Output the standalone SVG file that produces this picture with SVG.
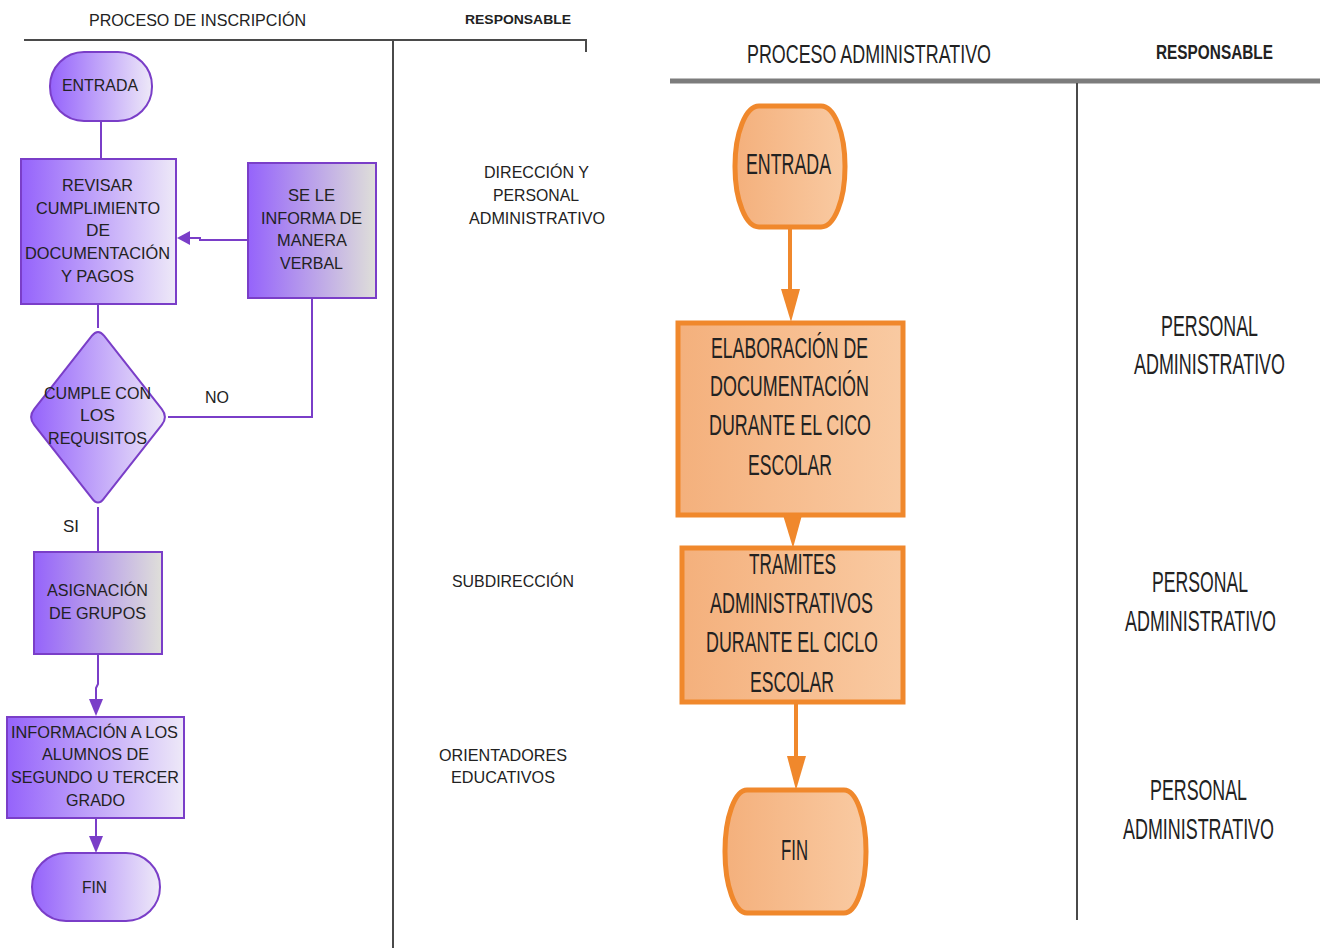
<svg xmlns="http://www.w3.org/2000/svg" width="1320" height="948" viewBox="0 0 1320 948">
  <defs>
    <linearGradient id="gLav" x1="0" y1="0" x2="1" y2="0">
      <stop offset="0" stop-color="#9563fb"/>
      <stop offset="1" stop-color="#eee9f8"/>
    </linearGradient>
    <linearGradient id="gGrey" x1="0" y1="0" x2="1" y2="0">
      <stop offset="0" stop-color="#9563fb"/>
      <stop offset="1" stop-color="#dfdfd9"/>
    </linearGradient>
    <linearGradient id="gOrange" x1="0" y1="0" x2="1" y2="0">
      <stop offset="0" stop-color="#f4b07c"/>
      <stop offset="1" stop-color="#f9caa2"/>
    </linearGradient>
    <style>
      .lbl { font-family: "Liberation Sans", Arial, sans-serif; font-size: 17px; fill: #222; text-anchor: middle; }
      .big { font-family: "Liberation Sans", Arial, sans-serif; font-size: 29px; fill: #222; text-anchor: middle; }
      .tall { font-family: "Liberation Sans", Arial, sans-serif; font-size: 20px; fill: #222; text-anchor: middle; }
      .hdr { font-family: "Liberation Sans", Arial, sans-serif; fill: #222; text-anchor: middle; }
      .bold { font-weight: bold; }
      .pnode { stroke: #7a3ec8; stroke-width: 2; }
      .onode { stroke: #f0882c; stroke-width: 5; fill: url(#gOrange); }
      .pline { fill: none; stroke: #7a3ec8; stroke-width: 2; }
      .oline { fill: none; stroke: #f0882c; stroke-width: 4; }
      .parrow { fill: #7a3ec8; }
      .oarrow { fill: #f0882c; }
      .rule { fill: none; stroke: #4a4a4a; stroke-width: 2; }
    </style>
  </defs>

  <rect width="1320" height="948" fill="#ffffff"/>

  <!-- ===== Left table: enrolment process ===== -->
  <g id="left-table">
    <text class="hdr" x="197.5" y="26" font-size="17" textLength="217" lengthAdjust="spacingAndGlyphs">PROCESO DE INSCRIPCIÓN</text>
    <text class="hdr bold" x="518" y="24" font-size="13" textLength="106" lengthAdjust="spacingAndGlyphs">RESPONSABLE</text>
    <path class="rule" d="M24,40 H586 V52"/>
    <path class="rule" d="M393,40 V948"/>
  </g>

  <g id="left-connectors">
    <path class="pline" d="M101,121 V159"/>
    <path class="pline" d="M248,240 H200 V238 H188"/>
    <polygon class="parrow" points="177,238 190,231 190,245"/>
    <path class="pline" d="M312,298 V417 H168"/>
    <path class="pline" d="M98,304 V328"/>
    <path class="pline" d="M98,507 V552"/>
    <path class="pline" d="M98,654 V684 L96,688 V700"/>
    <polygon class="parrow" points="96,716 89,699 103,699"/>
    <path class="pline" d="M96,818 V838"/>
    <polygon class="parrow" points="96,853 89,836 103,836"/>
    <text class="lbl" x="217" y="403" textLength="24" lengthAdjust="spacingAndGlyphs">NO</text>
    <text class="lbl" x="71" y="532" textLength="16" lengthAdjust="spacingAndGlyphs">SI</text>
  </g>

  <g id="l-entrada">
    <rect class="pnode" x="50" y="52" width="102" height="69" rx="34" ry="34" fill="url(#gLav)"/>
    <text class="lbl" x="100" y="91" textLength="76" lengthAdjust="spacingAndGlyphs">ENTRADA</text>
  </g>

  <g id="l-revisar">
    <rect class="pnode" x="21" y="159" width="155" height="145" fill="url(#gLav)"/>
    <text class="lbl" x="97.5" y="191" textLength="71" lengthAdjust="spacingAndGlyphs">REVISAR</text>
    <text class="lbl" x="98" y="214" textLength="124" lengthAdjust="spacingAndGlyphs">CUMPLIMIENTO</text>
    <text class="lbl" x="98" y="236" textLength="24" lengthAdjust="spacingAndGlyphs">DE</text>
    <text class="lbl" x="97.5" y="259" textLength="145" lengthAdjust="spacingAndGlyphs">DOCUMENTACIÓN</text>
    <text class="lbl" x="97.5" y="282" textLength="73" lengthAdjust="spacingAndGlyphs">Y PAGOS</text>
  </g>

  <g id="l-informa">
    <rect class="pnode" x="248" y="163" width="128" height="135" fill="url(#gGrey)"/>
    <text class="lbl" x="311.5" y="201" textLength="47" lengthAdjust="spacingAndGlyphs">SE LE</text>
    <text class="lbl" x="311.5" y="224" textLength="101" lengthAdjust="spacingAndGlyphs">INFORMA DE</text>
    <text class="lbl" x="312" y="246" textLength="70" lengthAdjust="spacingAndGlyphs">MANERA</text>
    <text class="lbl" x="311.5" y="269" textLength="63" lengthAdjust="spacingAndGlyphs">VERBAL</text>
  </g>

  <g id="l-cumple">
    <path class="pnode" fill="url(#gLav)" d="M104.2,335.9 L161.8,409.1 Q168,417 161.8,424.9 L104.2,498.1 Q98,507 91.8,498.1 L34.2,424.9 Q28,417 34.2,409.1 L91.8,335.9 Q98,328 104.2,335.9 Z"/>
    <text class="lbl" x="97.5" y="399" textLength="107" lengthAdjust="spacingAndGlyphs">CUMPLE CON</text>
    <text class="lbl" x="97.5" y="421" textLength="35" lengthAdjust="spacingAndGlyphs">LOS</text>
    <text class="lbl" x="97.5" y="444" textLength="99" lengthAdjust="spacingAndGlyphs">REQUISITOS</text>
  </g>

  <g id="l-asignacion">
    <rect class="pnode" x="34" y="552" width="128" height="102" fill="url(#gGrey)"/>
    <text class="lbl" x="97.5" y="596" textLength="101" lengthAdjust="spacingAndGlyphs">ASIGNACIÓN</text>
    <text class="lbl" x="97.5" y="619" textLength="97" lengthAdjust="spacingAndGlyphs">DE GRUPOS</text>
  </g>

  <g id="l-informacion">
    <rect class="pnode" x="7" y="717" width="177" height="101" fill="url(#gLav)"/>
    <text class="lbl" x="94.5" y="738" textLength="167" lengthAdjust="spacingAndGlyphs">INFORMACIÓN A LOS</text>
    <text class="lbl" x="95.5" y="760" textLength="107" lengthAdjust="spacingAndGlyphs">ALUMNOS DE</text>
    <text class="lbl" x="95" y="783" textLength="168" lengthAdjust="spacingAndGlyphs">SEGUNDO U TERCER</text>
    <text class="lbl" x="95.5" y="806" textLength="59" lengthAdjust="spacingAndGlyphs">GRADO</text>
  </g>

  <g id="l-fin">
    <rect class="pnode" x="32" y="853" width="128" height="68" rx="34" ry="34" fill="url(#gLav)"/>
    <text class="lbl" x="94.5" y="893" textLength="25" lengthAdjust="spacingAndGlyphs">FIN</text>
  </g>

  <g id="left-responsables">
    <text class="lbl" x="536.5" y="178" textLength="105" lengthAdjust="spacingAndGlyphs">DIRECCIÓN Y</text>
    <text class="lbl" x="536" y="201" textLength="86" lengthAdjust="spacingAndGlyphs">PERSONAL</text>
    <text class="lbl" x="537" y="224" textLength="136" lengthAdjust="spacingAndGlyphs">ADMINISTRATIVO</text>
    <text class="lbl" x="513" y="587" textLength="122" lengthAdjust="spacingAndGlyphs">SUBDIRECCIÓN</text>
    <text class="lbl" x="503" y="761" textLength="128" lengthAdjust="spacingAndGlyphs">ORIENTADORES</text>
    <text class="lbl" x="503" y="783" textLength="104" lengthAdjust="spacingAndGlyphs">EDUCATIVOS</text>
  </g>

  <!-- ===== Right table: administrative process ===== -->
  <g id="right-table">
    <text class="hdr" x="869" y="63" font-size="26" textLength="244" lengthAdjust="spacingAndGlyphs">PROCESO ADMINISTRATIVO</text>
    <text class="hdr bold" x="1214.5" y="59" font-size="21" textLength="117" lengthAdjust="spacingAndGlyphs">RESPONSABLE</text>
    <path d="M670,81 H1320" stroke="#7c7c7c" stroke-width="5" fill="none"/>
    <path class="rule" d="M1077,83 V920"/>
  </g>

  <g id="right-connectors">
    <path class="oline" d="M790,227 V292"/>
    <polygon class="oarrow" points="791,322 781,289 800,289"/>
    <polygon class="oarrow" points="793,548 783,515 802,515"/>
    <path class="oline" d="M796,702 V760"/>
    <polygon class="oarrow" points="796,790 787,756 806,756"/>
  </g>

  <g id="r-entrada">
    <rect class="onode" x="735" y="106" width="110" height="121" rx="24" ry="60"/>
    <text class="big" x="788.5" y="174" textLength="85" lengthAdjust="spacingAndGlyphs">ENTRADA</text>
  </g>

  <g id="r-elaboracion">
    <rect class="onode" x="678" y="323" width="225" height="192"/>
    <text class="big" x="789.5" y="358" textLength="157" lengthAdjust="spacingAndGlyphs">ELABORACIÓN DE</text>
    <text class="big" x="789.5" y="396" textLength="159" lengthAdjust="spacingAndGlyphs">DOCUMENTACIÓN</text>
    <text class="big" x="790" y="435" textLength="162" lengthAdjust="spacingAndGlyphs">DURANTE EL CICO</text>
    <text class="big" x="790" y="475" textLength="84" lengthAdjust="spacingAndGlyphs">ESCOLAR</text>
  </g>

  <g id="r-tramites">
    <rect class="onode" x="682" y="548" width="221" height="154"/>
    <text class="big" x="792.5" y="574" textLength="87" lengthAdjust="spacingAndGlyphs">TRAMITES</text>
    <text class="big" x="791.5" y="613" textLength="163" lengthAdjust="spacingAndGlyphs">ADMINISTRATIVOS</text>
    <text class="big" x="792" y="652" textLength="172" lengthAdjust="spacingAndGlyphs">DURANTE EL CICLO</text>
    <text class="big" x="792" y="692" textLength="84" lengthAdjust="spacingAndGlyphs">ESCOLAR</text>
  </g>

  <g id="r-fin">
    <rect class="onode" x="725" y="790" width="141" height="123" rx="22" ry="61"/>
    <text class="big" x="794.5" y="860" textLength="27" lengthAdjust="spacingAndGlyphs">FIN</text>
  </g>

  <!-- responsible labels: smaller font stretched vertically to keep the tall, narrow lettering -->
  <g id="right-responsables">
    <text class="tall" transform="translate(1209.5,336) scale(1,1.5)" textLength="97" lengthAdjust="spacingAndGlyphs">PERSONAL</text>
    <text class="tall" transform="translate(1209.5,374) scale(1,1.5)" textLength="151" lengthAdjust="spacingAndGlyphs">ADMINISTRATIVO</text>
    <text class="tall" transform="translate(1200,592) scale(1,1.5)" textLength="96" lengthAdjust="spacingAndGlyphs">PERSONAL</text>
    <text class="tall" transform="translate(1200.5,631) scale(1,1.5)" textLength="151" lengthAdjust="spacingAndGlyphs">ADMINISTRATIVO</text>
    <text class="tall" transform="translate(1198.5,800) scale(1,1.5)" textLength="97" lengthAdjust="spacingAndGlyphs">PERSONAL</text>
    <text class="tall" transform="translate(1198.5,839) scale(1,1.5)" textLength="151" lengthAdjust="spacingAndGlyphs">ADMINISTRATIVO</text>
  </g>
</svg>
